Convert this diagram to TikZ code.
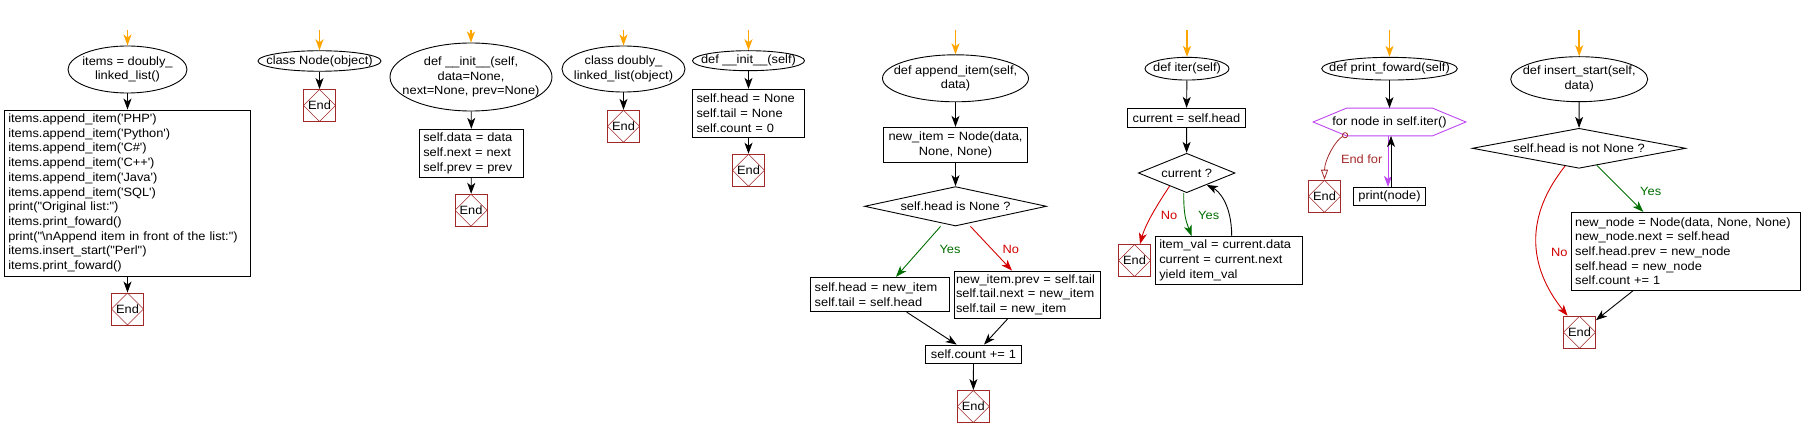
\documentclass[tikz,border=0pt]{standalone}
\usepackage{fontspec}
\setmainfont{Liberation Sans}[Ligatures=TeXOff, FakeStretch=1.07]
\usetikzlibrary{shapes.geometric, arrows.meta, calc}
\definecolor{endred}{RGB}{160,40,40}
\definecolor{yesgreen}{RGB}{0,110,0}
\definecolor{nored}{RGB}{210,0,0}
\definecolor{forpurple}{RGB}{190,70,240}
\definecolor{startorange}{RGB}{255,165,0}
\definecolor{endfor}{RGB}{165,42,42}
\begin{document}
\begin{tikzpicture}[x=1pt,y=-1pt,
  every node/.style={font=\fontsize{12}{14.7}\selectfont},
  term/.style={ellipse, draw, line width=0.9pt, inner sep=0pt},
  txt/.style={align=center, inner sep=0pt},
  proc/.style={rectangle, draw, line width=0.9pt, inner xsep=4pt, inner ysep=0pt, align=left},
  procc/.style={proc, align=center},
  decide/.style={diamond, draw, line width=0.9pt, inner sep=0pt},
  endnode/.style={rectangle, draw=endred, line width=0.9pt, minimum width=32pt, minimum height=32pt, inner sep=0pt,
    path picture={\draw[endred, line width=0.6pt] (path picture bounding box.north) -- (path picture bounding box.east) -- (path picture bounding box.south) -- (path picture bounding box.west) -- cycle;}},
  flow/.style={line width=0.9pt, -{Stealth[length=11pt,width=8pt,inset=3pt]}},
  entry/.style={draw=startorange, line width=1.5pt, -{Stealth[length=11pt,width=8pt,inset=3pt]}},
  lbl/.style={inner sep=0pt}
]
\useasboundingbox (0,0) rectangle (1802,438);

% ---------- chart 1
\coordinate (s1) at (127.5,30);
\node[term, minimum width=119pt, minimum height=47pt] (e1) at (127.5,69.5) {};
\node[txt] (e1t) at (e1) {items = doubly\_\\linked\_list()};
\node[proc, text width=238.4pt, minimum height=166pt] (b1) at (127.5,193) {items.append\_item('PHP')\\items.append\_item('Python')\\items.append\_item('C\#')\\items.append\_item('C++')\\items.append\_item('Java')\\items.append\_item('SQL')\\print("Original list:")\\items.print\_foward()\\print("\textbackslash nAppend item in front of the list:")\\items.insert\_start("Perl")\\items.print\_foward()};
\node[endnode] (x1) at (127.5,309) {End};
\draw[entry] (s1) -- (e1);
\draw[flow] (e1) -- (b1);
\draw[flow] (b1) -- (x1);

% ---------- chart 2
\coordinate (s2) at (319.5,30);
\node[term, minimum width=123pt, minimum height=20.5pt] (e2) at (319.5,61) {};
\node[txt] (e2t) at (e2) {class Node(object)};
\node[endnode] (x2) at (319.5,105.5) {End};
\draw[entry] (s2) -- (e2);
\draw[flow] (e2) -- (x2);

% ---------- chart 3
\coordinate (s3) at (471,30);
\node[term, minimum width=162pt, minimum height=68pt] (e3) at (471,77) {};
\node[txt] (e3t) at (e3) {def \_\_init\_\_(self,\\data=None,\\next=None, prev=None)};
\node[proc, text width=96.4pt, minimum height=48pt] (b3) at (471.5,153.3) {self.data = data\\self.next = next\\self.prev = prev};
\node[endnode] (x3) at (471,210.3) {End};
\draw[entry] (s3) -- (e3);
\draw[flow] (e3) -- (b3);
\draw[flow] (b3) -- (x3);

% ---------- chart 4
\coordinate (s4) at (623.5,30);
\node[term, minimum width=123pt, minimum height=46pt] (e4) at (623.5,69) {};
\node[txt] (e4t) at (e4) {class doubly\_\\linked\_list(object)};
\node[endnode] (x4) at (623.5,126.3) {End};
\draw[entry] (s4) -- (e4);
\draw[flow] (e4) -- (x4);

% ---------- chart 5
\coordinate (s5) at (748.5,30);
\node[term, minimum width=112pt, minimum height=20pt] (e5) at (748.5,60.7) {};
\node[txt] (e5t) at (e5) {def \_\_init\_\_(self)};
\node[proc, text width=104pt, minimum height=48pt] (b5) at (748.5,113.3) {self.head = None\\self.tail = None\\self.count = 0};
\node[endnode] (x5) at (748.5,170.2) {End};
\draw[entry] (s5) -- (e5);
\draw[flow] (e5) -- (b5);
\draw[flow] (b5) -- (x5);

% ---------- chart 6
\coordinate (s6) at (955.5,30);
\node[term, minimum width=146pt, minimum height=47pt] (e6) at (955.5,78.3) {};
\node[txt] (e6t) at (e6) {def append\_item(self,\\data)};
\node[procc, text width=136pt, minimum height=35.4pt] (b6) at (955.5,145) {new\_item = Node(data,\\None, None)};
\node[decide, minimum width=182pt, minimum height=39.4pt] (d6) at (955.5,206.3) {};
\node[txt] (d6t) at (d6) {self.head is None ?};
\node[proc, text width=130.6pt, minimum height=34.4pt] (y6) at (880,294.5) {self.head = new\_item\\self.tail = self.head};
\node[proc, inner xsep=2pt, text width=142pt, minimum height=47.3pt] (n6) at (1027,294.7) {new\_item.prev = self.tail\\self.tail.next = new\_item\\self.tail = new\_item};
\node[procc, text width=88.4pt, minimum height=18.3pt] (c6) at (973.5,354.2) {self.count += 1};
\node[endnode] (x6) at (973.3,406.5) {End};
\node[lbl, text=yesgreen] (l6y) at (950,249) {Yes};
\node[lbl, text=nored] (l6n) at (1010.7,249) {No};
\draw[entry] (s6) -- (e6);
\draw[flow] (e6) -- (b6);
\draw[flow] (b6) -- (d6);
\draw[flow, yesgreen] ([xshift=-15pt]d6.south) -- ([xshift=16pt]y6.north);
\draw[flow, nored] ([xshift=15pt]d6.south) -- ([xshift=-15pt]n6.north);
\draw[flow] ([xshift=26.7pt]y6.south) -- ([xshift=-16.8pt]c6.north);
\draw[flow] ([xshift=-19.3pt]n6.south) -- ([xshift=10.5pt]c6.north);
\draw[flow] (c6) -- (x6);

% ---------- chart 7
\coordinate (s7) at (1187,30);
\node[term, minimum width=84pt, minimum height=22.7pt] (e7) at (1187,68.7) {};
\node[txt] (e7t) at (e7) {def iter(self)};
\node[procc, text width=110.4pt, minimum height=19pt] (b7) at (1186.5,117.8) {current = self.head};
\node[decide, minimum width=96.7pt, minimum height=39.4pt] (d7) at (1186.7,173) {};
\node[txt] (d7t) at (d7) {current ?};
\node[endnode] (x7) at (1134.5,260.5) {End};
\node[proc, text width=139.4pt, minimum height=47.6pt] (i7) at (1229,260.5) {item\_val = current.data\\current = current.next\\yield item\_val};
\node[lbl, text=nored] (l7n) at (1169,215) {No};
\node[lbl, text=yesgreen] (l7y) at (1208.7,215) {Yes};
\draw[entry] (s7) -- (e7);
\draw[flow] (e7) -- (b7);
\draw[flow] (b7) -- (d7);
\draw[flow, nored] ($(d7.south)!0.35!(d7.west)$) .. controls +(-8,12) and +(6,-22) .. ([xshift=5.5pt]x7.north);
\draw[flow, yesgreen] ([xshift=-3pt]d7.south) .. controls +(0,22) and +(-6,-16) .. ([xshift=-37.3pt]i7.north);
\draw[flow] ([xshift=2.7pt]i7.north) .. controls +(0,-32) and +(12,6) .. ($(d7.south)!0.41!(d7.east)$);

% ---------- chart 8
\coordinate (s8) at (1389.5,30);
\node[term, minimum width=135.6pt, minimum height=22.7pt] (e8) at (1389.5,68.7) {};
\node[txt] (e8t) at (e8) {def print\_foward(self)};
\node[inner sep=0pt, minimum width=152.4pt, minimum height=27.4pt] (h8) at (1389.5,122) {};
\node[txt] (h8t) at (h8) {for node in self.iter()};
\draw[forpurple, line width=0.9pt] (h8.west) -- ([xshift=33.5pt]h8.north west) -- ([xshift=-33.5pt]h8.north east) -- (h8.east) -- ([xshift=-33.5pt]h8.south east) -- ([xshift=33.5pt]h8.south west) -- cycle;
\node[procc, text width=64.4pt, minimum height=18.3pt] (p8) at (1389.5,196.5) {print(node)};
\node[endnode] (x8) at (1324.5,196.2) {End};
\node[lbl, text=endfor] (l8) at (1361.7,159.3) {End for};
\draw[entry] (s8) -- (e8);
\draw[flow] (e8) -- (h8);
\draw[flow, forpurple] ([xshift=-1.5pt]h8.south) -- ([xshift=-1.5pt]p8.north);
\draw[flow] ([xshift=1.5pt]p8.north) -- ([xshift=1.5pt]h8.south);
\draw[endfor, line width=0.8pt, {Circle[open,length=6pt,width=6pt]}-{Triangle[open,length=10pt,width=7pt]}] ([xshift=-41.8pt,yshift=2pt]h8.south) .. controls +(-12,6) and +(0,-20) .. (x8.north);

% ---------- chart 9
\coordinate (s9) at (1579.2,30);
\node[term, minimum width=137pt, minimum height=45pt] (e9) at (1579.2,79.2) {};
\node[txt] (e9t) at (e9) {def insert\_start(self,\\data)};
\node[decide, minimum width=213.4pt, minimum height=40pt] (d9) at (1579,148.3) {};
\node[txt] (d9t) at (d9) {self.head is not None ?};
\node[proc, text width=221.7pt, minimum height=77.7pt] (b9) at (1686,251.2) {new\_node = Node(data, None, None)\\new\_node.next = self.head\\self.head.prev = new\_node\\self.head = new\_node\\self.count += 1};
\node[endnode] (x9) at (1579.5,332.2) {End};
\node[lbl, text=nored] (l9n) at (1559.3,252.7) {No};
\node[lbl, text=yesgreen] (l9y) at (1650.7,191.7) {Yes};
\draw[entry] (s9) -- (e9);
\draw[flow] (e9) -- (d9);
\draw[flow, nored] ($(d9.south)!0.13!(d9.west)$) .. controls +(-40,50) and +(-40,-50) .. ([xshift=-12pt]x9.north);
\draw[flow, yesgreen] ($(d9.south)!0.166!(d9.east)$) -- ([xshift=-42.7pt]b9.north);
\draw[flow] ([xshift=-52.7pt]b9.south) -- ([yshift=12pt]x9.east);
\end{tikzpicture}
\end{document}
